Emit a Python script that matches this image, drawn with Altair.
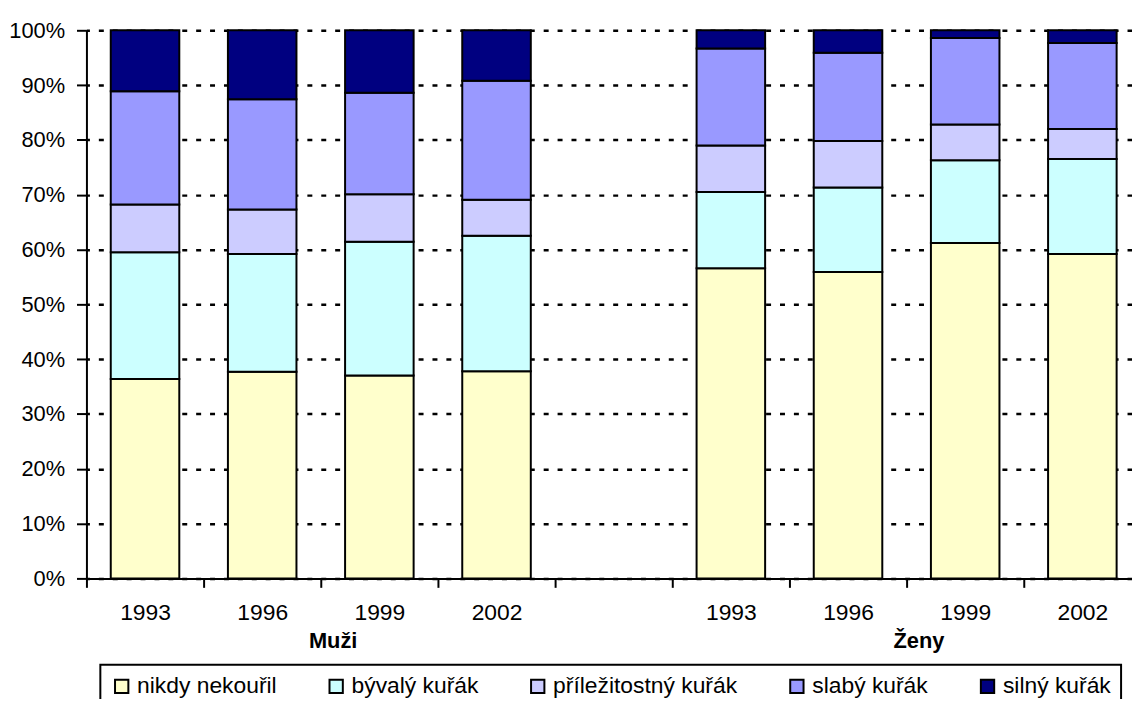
import altair as alt
import pandas as pd

groups = ["Muži", "Ženy"]
years = ["1993", "1996", "1999", "2002"]
categories = ["nikdy nekouřil", "bývalý kuřák", "příležitostný kuřák", "slabý kuřák", "silný kuřák"]
colors = ["#FFFFCC", "#CCFFFF", "#CCCCFF", "#9999FF", "#000080"]

# values in %, order: Muži 1993..2002, Ženy 1993..2002
nikdy = [36.4, 37.7, 37.0, 37.8, 56.6, 55.9, 61.2, 59.2]
byvaly = [23.1, 21.5, 24.4, 24.7, 13.9, 15.4, 15.1, 17.3]
prilez = [8.7, 8.1, 8.7, 6.6, 8.5, 8.5, 6.5, 5.5]
slaby = [20.7, 20.1, 18.5, 21.7, 17.7, 16.1, 15.8, 15.7]
silny = [11.1, 12.6, 11.4, 9.2, 3.3, 4.1, 1.4, 2.3]
series = [nikdy, byvaly, prilez, slaby, silny]

slots = [f"{groups[0]} {y}" for y in years] + [" "] + [f"{groups[1]} {y}" for y in years]
bar_slots = [s for s in slots if s.strip()]

rows = []
for ci, (cat, vals) in enumerate(zip(categories, series)):
    for s, v in zip(bar_slots, vals):
        rows.append({"slot": s, "category": cat, "value": v, "rank": ci})
df = pd.DataFrame(rows)

grp_df = pd.DataFrame({"slot": [f"{groups[0]} {years[2]}", f"{groups[1]} {years[2]}"],
                       "label": groups})

FONT = "Liberation Sans, Arial, sans-serif"

xscale = alt.Scale(domain=slots, range=[0, 1062], paddingInner=0.415, paddingOuter=0.2075)

bars = alt.Chart(df).mark_bar(stroke="black", strokeWidth=2).encode(
    x=alt.X("slot:N", scale=xscale, sort=slots,
            axis=alt.Axis(title=None, bandPosition=0, tickOffset=-24.5, labelOffset=24.5,
                          labelExpr="slice(datum.label, -4)", labelAngle=0,
                          tickSize=9, tickWidth=2, tickColor="black",
                          domainWidth=2, domainColor="black",
                          labelPadding=14, labelFontSize=23, labelOverlap=False,
                          labelBound=False, labelFlush=False, grid=False)),
    y=alt.Y("value:Q", stack="normalize", scale=alt.Scale(domain=[0, 1]),
            axis=alt.Axis(title=None, values=[i / 10 for i in range(11)], format=".0%",
                          tickSize=10, tickWidth=2, tickColor="black",
                          domainWidth=2, domainColor="black",
                          labelPadding=12, labelFontSize=22,
                          grid=True, gridColor="black", gridWidth=2.5,
                          gridDash=[5, 9], gridDashOffset=2)),
    color=alt.Color("category:N", scale=alt.Scale(domain=categories, range=colors),
                    legend=alt.Legend(title=None, orient="none", legendX=14, legendY=639,
                                      direction="horizontal", columns=5)),
    order=alt.Order("rank:Q"),
)

grp = alt.Chart(grp_df).mark_text(font=FONT, fontSize=22, fontWeight="bold",
                                  baseline="alphabetic", align="center", dx=-12,
                                  color="black").encode(
    x=alt.X("slot:N", bandPosition=0, scale=xscale, sort=slots),
    y=alt.value(622),
    text="label:N",
)

chart = alt.layer(bars, grp).properties(
    width=1053, height=552,
    padding={"left": 79, "top": 20, "right": 0, "bottom": 119},
    autosize=alt.AutoSizeParams(type="none"),
    title=alt.Title("Graf 4: Respondenti podle typu kuřáctví v letech 1993 - 2002",
                    font=FONT, fontSize=22, fontWeight="bold", frame="group",
                    baseline="bottom", offset=21, color="black"),
).configure_view(stroke=None).configure_axis(
    labelFont=FONT, labelColor="black"
).configure_legend(
    labelFont=FONT, labelFontSize=23, labelColor="black", labelLimit=500,
    symbolType="square", symbolSize=180, symbolStrokeColor="black",
    symbolStrokeWidth=2, symbolOpacity=1, labelOffset=4,
    columnPadding=48, padding=10, strokeColor="black", strokeWidth=2,
)

chart.save("out.html", embed_options={"renderer": "svg", "actions": False})
